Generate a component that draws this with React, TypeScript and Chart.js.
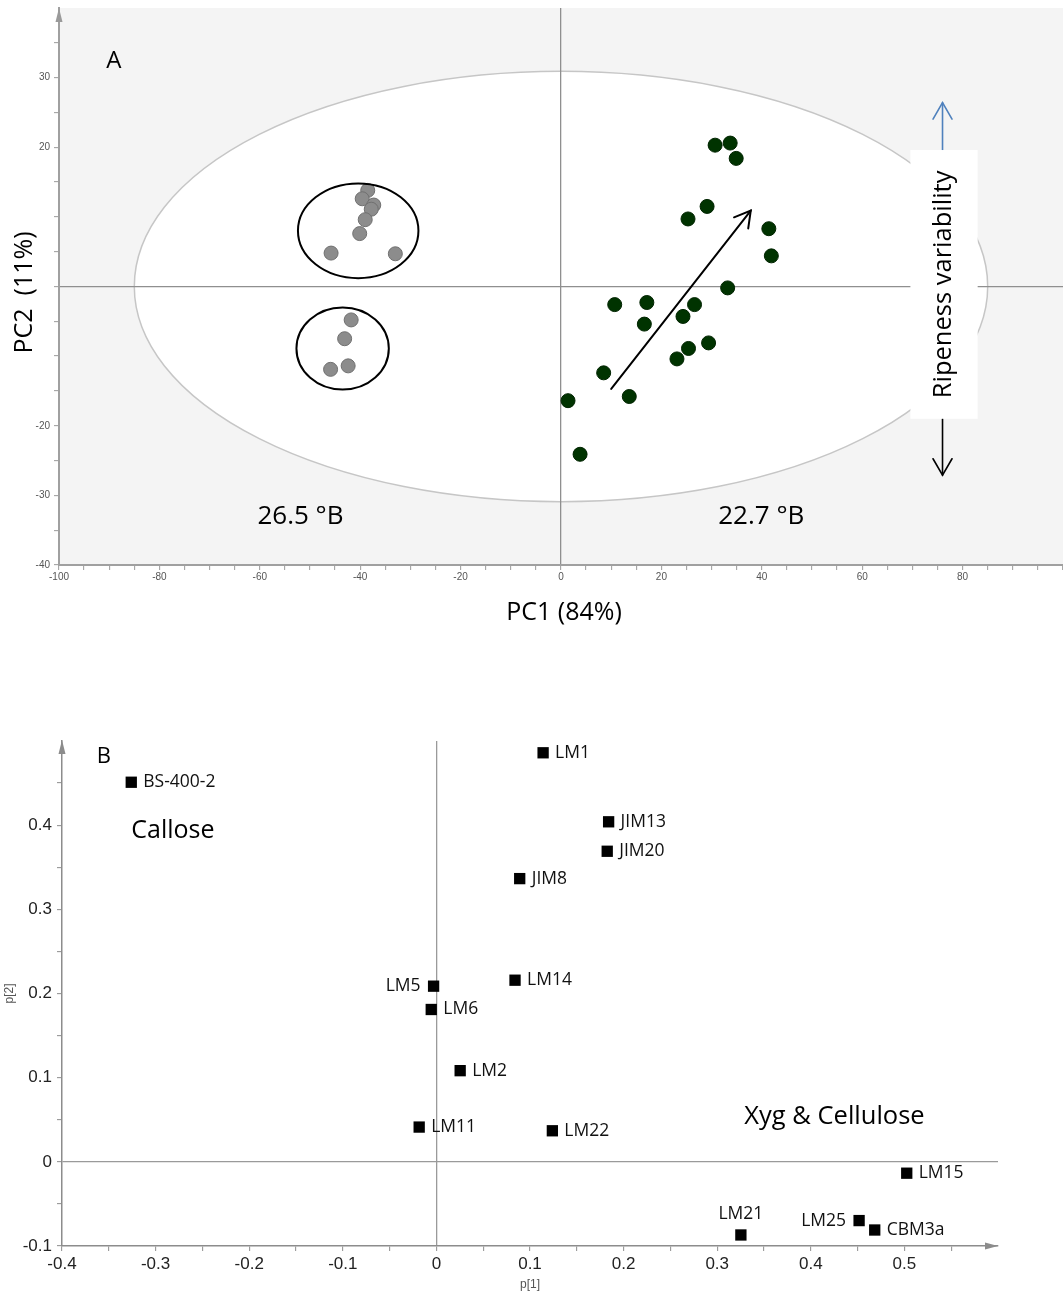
import React, { useEffect, useRef } from 'react';
import { Chart, registerables } from 'chart.js';

Chart.register(...registerables);

// ---------------- Panel A : PCA score plot ----------------
const SAMPLES_265_PC1 = [-38.5, -39.6, -37.3, -37.8, -39.0, -40.1, -45.8, -33.0, -41.8, -43.1, -42.4, -45.9];
const SAMPLES_265_PC2 = [13.8, 12.6, 11.7, 11.1, 9.6, 7.6, 4.8, 4.7, -4.8, -7.5, -11.4, -11.9];
const SAMPLES_227_PC1 = [30.7, 33.7, 34.9, 29.1, 25.3, 41.4, 41.9, 33.2, 10.7, 17.1, 26.6, 24.3, 16.6, 29.4, 25.4, 23.1, 8.5, 13.6, 1.4, 3.8];
const SAMPLES_227_PC2 = [20.3, 20.6, 18.4, 11.5, 9.7, 8.3, 4.4, -0.2, -2.6, -2.3, -2.6, -4.3, -5.4, -8.1, -8.9, -10.4, -12.4, -15.8, -16.4, -24.1];

const A_X_TICKS = [-100, -95, -90, -85, -80, -75, -70, -65, -60, -55, -50, -45, -40, -35, -30, -25, -20, -15, -10, -5, 0, 5, 10, 15, 20, 25, 30, 35, 40, 45, 50, 55, 60, 65, 70, 75, 80, 85, 90, 95, 100];
const A_X_LABELS = [-100, -80, -60, -40, -20, 0, 20, 40, 60, 80];
const A_Y_TICKS = [-40, -35, -30, -25, -20, -15, -10, -5, 0, 5, 10, 15, 20, 25, 30, 35];
const A_Y_LABELS = [-40, -30, -20, 20, 30];

// Hotelling T2 ellipse and the hand-drawn group rings (data units)
const T2_ELLIPSE = { cx: 0, cy: 0, rx: 85, ry: 30.9 };
const GROUP_RINGS = [
  { cx: -40.4, cy: 8.0, rx: 12.0, ry: 6.8 },
  { cx: -43.5, cy: -8.9, rx: 9.2, ry: 5.9 },
];
const RIPENESS_TREND = { x1: 10.0, y1: -14.7, x2: 37.8, y2: 10.9 };
const RIPENESS_BOX = { x1: 69.6, x2: 83.0, y1: 19.6, y2: -19.0, arrowX: 76, upTip: 26.4, downTip: -27.1 };

// ---------------- Panel B : loading plot ----------------
const ANTIBODIES = ['BS-400-2', 'LM1', 'JIM13', 'JIM20', 'JIM8', 'LM14', 'LM5', 'LM6', 'LM2', 'LM11', 'LM22', 'LM15', 'LM21', 'LM25', 'CBM3a'];
const LOADING_P1 = [-0.326, 0.114, 0.184, 0.1825, 0.089, 0.084, -0.003, -0.0055, 0.0254, -0.0184, 0.1239, 0.5025, 0.3253, 0.4516, 0.4683];
const LOADING_P2 = [0.451, 0.486, 0.404, 0.369, 0.3365, 0.2158, 0.2087, 0.181, 0.1083, 0.0413, 0.0369, -0.0135, -0.0869, -0.0698, -0.081];
const LABEL_SIDE = ['right', 'right', 'right', 'right', 'right', 'right', 'left', 'right', 'right', 'right', 'right', 'right', 'top', 'left', 'right'];

const B_X_TICKS = [-0.4, -0.35, -0.3, -0.25, -0.2, -0.15, -0.1, -0.05, 0, 0.05, 0.1, 0.15, 0.2, 0.25, 0.3, 0.35, 0.4, 0.45, 0.5, 0.55];
const B_X_LABELS = [-0.4, -0.3, -0.2, -0.1, 0, 0.1, 0.2, 0.3, 0.4, 0.5];
const B_Y_TICKS = [-0.1, -0.05, 0, 0.05, 0.1, 0.15, 0.2, 0.25, 0.3, 0.35, 0.4, 0.45];
const B_Y_LABELS = [-0.1, 0, 0.1, 0.2, 0.3, 0.4];

const TEXT_FONT = '"Open Sans", "Noto Sans", sans-serif';

function arrowHead(ctx: CanvasRenderingContext2D, x1: number, y1: number, x2: number, y2: number, len: number, ang: number) {
  const a = Math.atan2(y2 - y1, x2 - x1);
  ctx.beginPath();
  ctx.moveTo(x2 - len * Math.cos(a - ang), y2 - len * Math.sin(a - ang));
  ctx.lineTo(x2, y2);
  ctx.lineTo(x2 - len * Math.cos(a + ang), y2 - len * Math.sin(a + ang));
  ctx.stroke();
}

function ellipseOf(chart: any, e: { cx: number; cy: number; rx: number; ry: number }) {
  const { x, y } = chart.scales;
  const cx = x.getPixelForValue(e.cx);
  const cy = y.getPixelForValue(e.cy);
  const rx = Math.abs(x.getPixelForValue(e.cx + e.rx) - cx);
  const ry = Math.abs(y.getPixelForValue(e.cy + e.ry) - cy);
  const ctx = chart.ctx as CanvasRenderingContext2D;
  ctx.beginPath();
  ctx.ellipse(cx, cy, rx, ry, 0, 0, Math.PI * 2);
}

const scoreDecor = {
  id: 'scoreDecor',
  beforeDraw(chart: any) {
    const ctx = chart.ctx as CanvasRenderingContext2D;
    const a = chart.chartArea;
    ctx.save();
    ctx.fillStyle = '#f4f4f4';
    ctx.fillRect(a.left, a.top, a.right - a.left, a.bottom - a.top);
    ellipseOf(chart, T2_ELLIPSE);
    ctx.fillStyle = '#ffffff';
    ctx.fill();
    ctx.strokeStyle = '#c6c6c6';
    ctx.lineWidth = 1.5;
    ctx.stroke();
    ctx.restore();
  },
  afterDatasetsDraw(chart: any) {
    const ctx = chart.ctx as CanvasRenderingContext2D;
    const { x, y } = chart.scales;
    ctx.save();
    // group rings
    ctx.strokeStyle = '#000';
    ctx.lineWidth = 2;
    GROUP_RINGS.forEach((r) => {
      ellipseOf(chart, r);
      ctx.stroke();
    });
    // ripeness trend arrow
    const t = RIPENESS_TREND;
    const x1 = x.getPixelForValue(t.x1), y1 = y.getPixelForValue(t.y1);
    const x2 = x.getPixelForValue(t.x2), y2 = y.getPixelForValue(t.y2);
    ctx.lineWidth = 2;
    ctx.lineCap = 'round';
    ctx.beginPath();
    ctx.moveTo(x1, y1);
    ctx.lineTo(x2, y2);
    ctx.stroke();
    arrowHead(ctx, x1, y1, x2, y2, 18, Math.PI / 6);
    // ripeness variability arrows + box
    const b = RIPENESS_BOX;
    const ax = x.getPixelForValue(b.arrowX);
    const bt = y.getPixelForValue(b.y1), bb = y.getPixelForValue(b.y2);
    const upY = y.getPixelForValue(b.upTip), dnY = y.getPixelForValue(b.downTip);
    ctx.lineWidth = 1.6;
    ctx.strokeStyle = '#4f81bd';
    ctx.beginPath();
    ctx.moveTo(ax, bt);
    ctx.lineTo(ax, upY);
    ctx.stroke();
    arrowHead(ctx, ax, bt, ax, upY, 19, Math.PI / 6);
    ctx.strokeStyle = '#000';
    ctx.beginPath();
    ctx.moveTo(ax, bb);
    ctx.lineTo(ax, dnY);
    ctx.stroke();
    arrowHead(ctx, ax, bb, ax, dnY, 19, Math.PI / 6);
    const bx1 = x.getPixelForValue(b.x1), bx2 = x.getPixelForValue(b.x2);
    ctx.fillStyle = '#fff';
    ctx.fillRect(bx1, bt, bx2 - bx1, bb - bt);
    ctx.save();
    ctx.translate((bx1 + bx2) / 2, (bt + bb) / 2);
    ctx.rotate(-Math.PI / 2);
    ctx.fillStyle = '#000';
    ctx.font = `25.5px ${TEXT_FONT}`;
    ctx.textAlign = 'center';
    ctx.textBaseline = 'middle';
    ctx.fillText('Ripeness variability', 0, 0);
    ctx.restore();
    // texts
    ctx.fillStyle = '#000';
    ctx.textAlign = 'center';
    ctx.textBaseline = 'middle';
    ctx.font = `26px ${TEXT_FONT}`;
    ctx.fillText('26.5 °B', x.getPixelForValue(-51.9), y.getPixelForValue(-33.1));
    ctx.fillText('22.7 °B', x.getPixelForValue(39.9), y.getPixelForValue(-33.1));
    ctx.font = `24px ${TEXT_FONT}`;
    ctx.fillText('A', x.getPixelForValue(-89.1), y.getPixelForValue(32.4));
    ctx.restore();
  },
  afterDraw(chart: any) {
    const ctx = chart.ctx as CanvasRenderingContext2D;
    const a = chart.chartArea;
    ctx.save();
    // y-axis arrow head
    ctx.fillStyle = '#9a9a9a';
    ctx.beginPath();
    ctx.moveTo(a.left, a.top);
    ctx.lineTo(a.left - 3.5, a.top + 14);
    ctx.lineTo(a.left + 3.5, a.top + 14);
    ctx.closePath();
    ctx.fill();
    // axis titles
    ctx.fillStyle = '#000';
    ctx.font = `25px ${TEXT_FONT}`;
    ctx.textAlign = 'center';
    ctx.textBaseline = 'middle';
    ctx.fillText('PC1 (84%)', (a.left + a.right) / 2 + 3, a.bottom + 48);
    ctx.translate(25, (a.top + a.bottom) / 2 + 6);
    ctx.rotate(-Math.PI / 2);
    ctx.fillText('PC2  (11%)', 0, 0);
    ctx.restore();
  },
};

const loadingDecor = {
  id: 'loadingDecor',
  afterDatasetsDraw(chart: any) {
    const ctx = chart.ctx as CanvasRenderingContext2D;
    const { x, y } = chart.scales;
    const meta = chart.getDatasetMeta(0);
    ctx.save();
    ctx.fillStyle = '#111';
    ctx.font = `17.5px ${TEXT_FONT}`;
    ctx.textBaseline = 'middle';
    meta.data.forEach((pt: any, i: number) => {
      const side = LABEL_SIDE[i];
      if (side === 'left') {
        ctx.textAlign = 'right';
        ctx.fillText(ANTIBODIES[i], pt.x - 13, pt.y);
      } else if (side === 'top') {
        ctx.textAlign = 'center';
        ctx.fillText(ANTIBODIES[i], pt.x, pt.y - 21);
      } else {
        ctx.textAlign = 'left';
        ctx.fillText(ANTIBODIES[i], pt.x + 12, pt.y);
      }
    });
    ctx.fillStyle = '#000';
    ctx.textAlign = 'center';
    ctx.font = `22px ${TEXT_FONT}`;
    ctx.fillText('B', x.getPixelForValue(-0.3554), y.getPixelForValue(0.4815));
    ctx.textAlign = 'left';
    ctx.font = `25px ${TEXT_FONT}`;
    ctx.fillText('Callose', x.getPixelForValue(-0.326), y.getPixelForValue(0.393));
    ctx.font = `25.5px ${TEXT_FONT}`;
    ctx.fillText('Xyg & Cellulose', x.getPixelForValue(0.329), y.getPixelForValue(0.053));
    ctx.restore();
  },
  afterDraw(chart: any) {
    const ctx = chart.ctx as CanvasRenderingContext2D;
    const a = chart.chartArea;
    const { y } = chart.scales;
    const y0 = y.getPixelForValue(-0.1);
    ctx.save();
    ctx.fillStyle = '#8c8c8c';
    ctx.beginPath();
    ctx.moveTo(a.left, a.top - 1);
    ctx.lineTo(a.left - 3.5, a.top + 13);
    ctx.lineTo(a.left + 3.5, a.top + 13);
    ctx.closePath();
    ctx.fill();
    ctx.beginPath();
    ctx.moveTo(a.right, y0);
    ctx.lineTo(a.right - 13, y0 - 3.5);
    ctx.lineTo(a.right - 13, y0 + 3.5);
    ctx.closePath();
    ctx.fill();
    ctx.restore();
  },
};

function zeroGrid(color: string) {
  return (c: any) => (c.tick && c.tick.value === 0 ? color : 'rgba(0,0,0,0)');
}

function fixX(h: number) {
  return (s: any) => {
    s.height = h;
    s.paddingLeft = 0;
    s.paddingRight = 0;
  };
}
function fixY(w: number) {
  return (s: any) => {
    s.width = w;
    s.paddingTop = 0;
    s.paddingBottom = 0;
  };
}

export default function App() {
  const refA = useRef<HTMLCanvasElement>(null);
  const refB = useRef<HTMLCanvasElement>(null);

  useEffect(() => {
    const tickFontA = { family: '"Liberation Sans", Arial, sans-serif', size: 10 };
    const chartA = new Chart(refA.current as HTMLCanvasElement, {
      type: 'scatter',
      data: {
        datasets: [
          {
            data: SAMPLES_265_PC1.map((v, i) => ({ x: v, y: SAMPLES_265_PC2[i] })),
            pointRadius: 7,
            backgroundColor: '#8c8c8c',
            borderColor: '#707070',
            borderWidth: 1,
          },
          {
            data: SAMPLES_227_PC1.map((v, i) => ({ x: v, y: SAMPLES_227_PC2[i] })),
            pointRadius: 7,
            backgroundColor: '#003300',
            borderColor: '#002400',
            borderWidth: 1,
          },
        ],
      },
      options: {
        animation: false,
        responsive: false,
        events: [],
        layout: { autoPadding: false, padding: { top: 8, left: 0, right: 0, bottom: 0 } },
        plugins: { legend: { display: false }, tooltip: { enabled: false } },
        scales: {
          x: {
            type: 'linear',
            min: -100,
            max: 100,
            afterBuildTicks: (s: any) => { s.ticks = A_X_TICKS.map((v) => ({ value: v })); },
            afterFit: fixX(85),
            ticks: {
              autoSkip: false,
              maxRotation: 0,
              padding: 1,
              color: '#555',
              font: tickFontA,
              callback: (v: any) => (A_X_LABELS.includes(v) ? String(v) : ''),
            },
            grid: { color: zeroGrid('#8f8f8f'), lineWidth: 1.3, tickColor: '#9a9a9a', tickLength: 5, tickWidth: 1 },
            border: { color: '#a0a0a0', width: 2 },
          },
          y: {
            type: 'linear',
            min: -40,
            max: 40,
            afterBuildTicks: (s: any) => { s.ticks = A_Y_TICKS.map((v) => ({ value: v })); },
            afterFit: fixY(59),
            ticks: {
              autoSkip: false,
              padding: 4,
              color: '#555',
              font: tickFontA,
              callback: (v: any) => (A_Y_LABELS.includes(v) ? String(v) : ''),
            },
            grid: { color: zeroGrid('#8f8f8f'), lineWidth: 1.3, tickColor: '#9a9a9a', tickLength: 5, tickWidth: 1 },
            border: { color: '#a0a0a0', width: 2 },
          },
        },
      },
      plugins: [scoreDecor],
    } as any);

    const tickFontB = { family: '"Liberation Sans", Arial, sans-serif', size: 17 };
    const chartB = new Chart(refB.current as HTMLCanvasElement, {
      type: 'scatter',
      data: {
        labels: ANTIBODIES,
        datasets: [
          {
            data: LOADING_P1.map((v, i) => ({ x: v, y: LOADING_P2[i] })),
            pointStyle: 'rect',
            pointRadius: 8,
            backgroundColor: '#000',
            borderWidth: 0,
          },
        ],
      },
      options: {
        animation: false,
        responsive: false,
        events: [],
        layout: { autoPadding: false, padding: { top: 51, left: 0, right: 65, bottom: 0 } },
        plugins: { legend: { display: false }, tooltip: { enabled: false } },
        scales: {
          x: {
            type: 'linear',
            min: -0.4,
            max: 0.6,
            afterBuildTicks: (s: any) => { s.ticks = B_X_TICKS.map((v) => ({ value: v })); },
            afterFit: fixX(48),
            title: { display: true, text: 'p[1]', color: '#555', font: { family: '"Liberation Sans", Arial, sans-serif', size: 12 }, padding: { top: 0, bottom: 2 } },
            ticks: {
              autoSkip: false,
              maxRotation: 0,
              padding: 3,
              color: '#222',
              font: tickFontB,
              callback: (v: any) => (B_X_LABELS.includes(v) ? (v === 0 ? '0' : String(v)) : ''),
            },
            grid: { color: zeroGrid('#9a9a9a'), lineWidth: 1.3, tickColor: '#8c8c8c', tickLength: 5, tickWidth: 1 },
            border: { color: '#8c8c8c', width: 1.5 },
          },
          y: {
            type: 'linear',
            min: -0.1,
            max: 0.5,
            afterBuildTicks: (s: any) => { s.ticks = B_Y_TICKS.map((v) => ({ value: v })); },
            afterFit: fixY(62),
            title: { display: true, text: 'p[2]', color: '#555', font: { family: '"Liberation Sans", Arial, sans-serif', size: 12 }, padding: { top: 2, bottom: 0 } },
            ticks: {
              autoSkip: false,
              padding: 5,
              color: '#222',
              font: tickFontB,
              callback: (v: any) => (B_Y_LABELS.includes(v) ? (v === 0 ? '0' : String(v)) : ''),
            },
            grid: { color: zeroGrid('#9a9a9a'), lineWidth: 1.3, tickColor: '#8c8c8c', tickLength: 5, tickWidth: 1 },
            border: { color: '#8c8c8c', width: 1.5 },
          },
        },
      },
      plugins: [loadingDecor],
    } as any);

    return () => {
      chartA.destroy();
      chartB.destroy();
    };
  }, []);

  return (
    <div style={{ position: 'absolute', left: 0, top: 0, width: 1063, height: 1294, background: '#fff', overflow: 'hidden' }}>
      <canvas ref={refA} width={1063} height={650} style={{ position: 'absolute', left: 0, top: 0, width: 1063, height: 650 }} />
      <canvas ref={refB} width={1063} height={604} style={{ position: 'absolute', left: 0, top: 690, width: 1063, height: 604 }} />
    </div>
  );
}
